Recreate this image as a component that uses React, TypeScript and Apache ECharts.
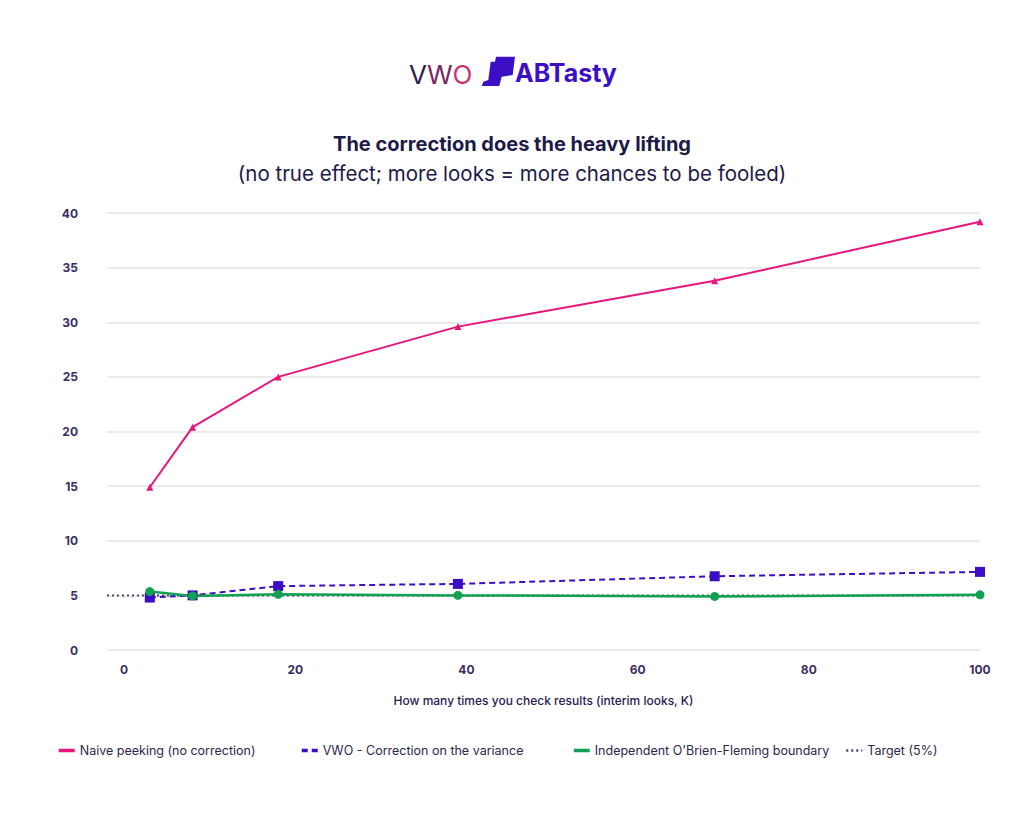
import React, { useEffect, useRef } from "react";
import * as echarts from "echarts";

// Interim look counts (K) and the resulting false positive rates (%)
const looks = [3, 8, 18, 39, 69, 100];
const naivePeeking = [14.9, 20.4, 25.0, 29.6, 33.8, 39.2];
const vwoCorrection = [4.8, 5.0, 5.85, 6.05, 6.75, 7.15];
const obrienFleming = [5.35, 4.95, 5.1, 5.0, 4.9, 5.05];
const targetRange = [-2, 100];
const targetRate = 5;
const xTickLabels = [0, 20, 40, 60, 80, 100];

const seriesNames = [
  "Naive peeking (no correction)",
  "VWO - Correction on the variance",
  "Independent O'Brien-Fleming boundary",
  "Target (5%)",
];

const PINK = "#e8157c";
const INDIGO = "#3c0fc6";
const GREEN = "#10a151";
const TARGET = "#4a4466";
const TEXT = "#2a2050";
const FONT = "Inter, 'Noto Sans', sans-serif";

// Simplified AB Tasty mark
echarts.graphic.registerShape(
  "abtastyMark",
  echarts.graphic.extendPath(
    "M19 0.7 L38 0.7 L35.7 19 L24.7 20.7 L22.3 30 L4.7 30 L6.3 25.7 L11.3 24 L13.7 5.7 L18 5.7 Z",
    {}
  )
);

const pair = (xs: number[], ys: number[]) => xs.map((x, i) => [x, ys[i]]);

export default function App() {
  const ref = useRef<HTMLDivElement>(null);

  useEffect(() => {
    if (!ref.current) return;
    const chart = echarts.init(ref.current, undefined, { renderer: "svg" });

    const legendLefts = [57, 300, 572, 845];
    const logoFont = `400 26px ${FONT}`;

    chart.setOption({
      animation: false,
      backgroundColor: "#ffffff",
      textStyle: { fontFamily: FONT },
      title: [
        {
          text: "The correction does the heavy lifting",
          left: "center",
          top: 129,
          textStyle: { fontFamily: FONT, fontSize: 20, fontWeight: "bold", color: "#1e1a48" },
        },
        {
          text: "(no true effect; more looks = more chances to be fooled)",
          left: "center",
          top: 158,
          textStyle: { fontFamily: FONT, fontSize: 20.5, fontWeight: "normal", color: "#1e1a48" },
        },
      ],
      graphic: [
        {
          type: "text",
          left: 409,
          top: 61,
          style: {
            text: "{a|V}{b|W}{c|O}",
            font: logoFont,
            rich: {
              a: { fill: "#2e1b4f", font: logoFont },
              b: { fill: "#7a2462", font: logoFont },
              c: { fill: "#c9336f", font: logoFont },
            },
          },
        },
        {
          type: "abtastyMark",
          x: 477,
          y: 56,
          style: { fill: INDIGO },
        },
        {
          type: "text",
          left: 515,
          top: 60,
          style: {
            text: "ABTasty",
            font: `700 25px ${FONT}`,
            fill: INDIGO,
          },
        },
      ],
      legend: seriesNames.map((name, i) => ({
        data: [name],
        left: legendLefts[i],
        top: 744,
        padding: 0,
        itemWidth: 16,
        itemHeight: 12,
        itemStyle: { opacity: 0 },
        lineStyle: { width: i === 3 ? 2.5 : 3.5 },
        textStyle: { fontFamily: FONT, fontSize: 12.5, color: "#2b2848" },
        selectedMode: false,
      })),
      grid: { left: 107, right: 44, top: 213, bottom: 167 },
      xAxis: {
        type: "value",
        min: targetRange[0],
        max: targetRange[1],
        name: "How many times you check results (interim looks, K)",
        nameLocation: "middle",
        nameGap: 44,
        nameTextStyle: { fontFamily: FONT, fontSize: 12, fontWeight: 500, color: TEXT },
        axisLine: { show: false },
        axisTick: { show: false },
        splitLine: { show: false },
        axisLabel: {
          customValues: xTickLabels,
          margin: 13,
          fontFamily: FONT,
          fontSize: 12,
          fontWeight: "bold",
          color: "#3b2c62",
        },
      },
      yAxis: {
        type: "value",
        min: 0,
        max: 40,
        interval: 5,
        axisLine: { show: false },
        axisTick: { show: false },
        splitLine: { lineStyle: { color: "#ebebeb", width: 2 } },
        axisLabel: {
          margin: 29,
          fontFamily: FONT,
          fontSize: 12,
          fontWeight: "bold",
          color: "#3b2c62",
        },
      },
      series: [
        {
          name: seriesNames[0],
          type: "line",
          data: pair(looks, naivePeeking),
          symbol: "triangle",
          symbolSize: 7,
          itemStyle: { color: PINK },
          lineStyle: { color: PINK, width: 2 },
        },
        {
          name: seriesNames[1],
          type: "line",
          data: pair(looks, vwoCorrection),
          symbol: "rect",
          symbolSize: 10,
          itemStyle: { color: INDIGO },
          lineStyle: { color: INDIGO, width: 2, type: [6, 4] },
        },
        {
          name: seriesNames[2],
          type: "line",
          data: pair(looks, obrienFleming),
          symbol: "circle",
          symbolSize: 9,
          itemStyle: { color: GREEN },
          lineStyle: { color: GREEN, width: 2.5 },
        },
        {
          name: seriesNames[3],
          type: "line",
          data: targetRange.map((x) => [x, targetRate]),
          symbol: "none",
          z: 1,
          itemStyle: { color: TARGET },
          lineStyle: { color: TARGET, width: 2, type: [2, 3] },
        },
      ],
    });

    return () => chart.dispose();
  }, []);

  return (
    <div
      ref={ref}
      style={{ position: "absolute", left: 0, top: 0, width: 1024, height: 817 }}
    />
  );
}
